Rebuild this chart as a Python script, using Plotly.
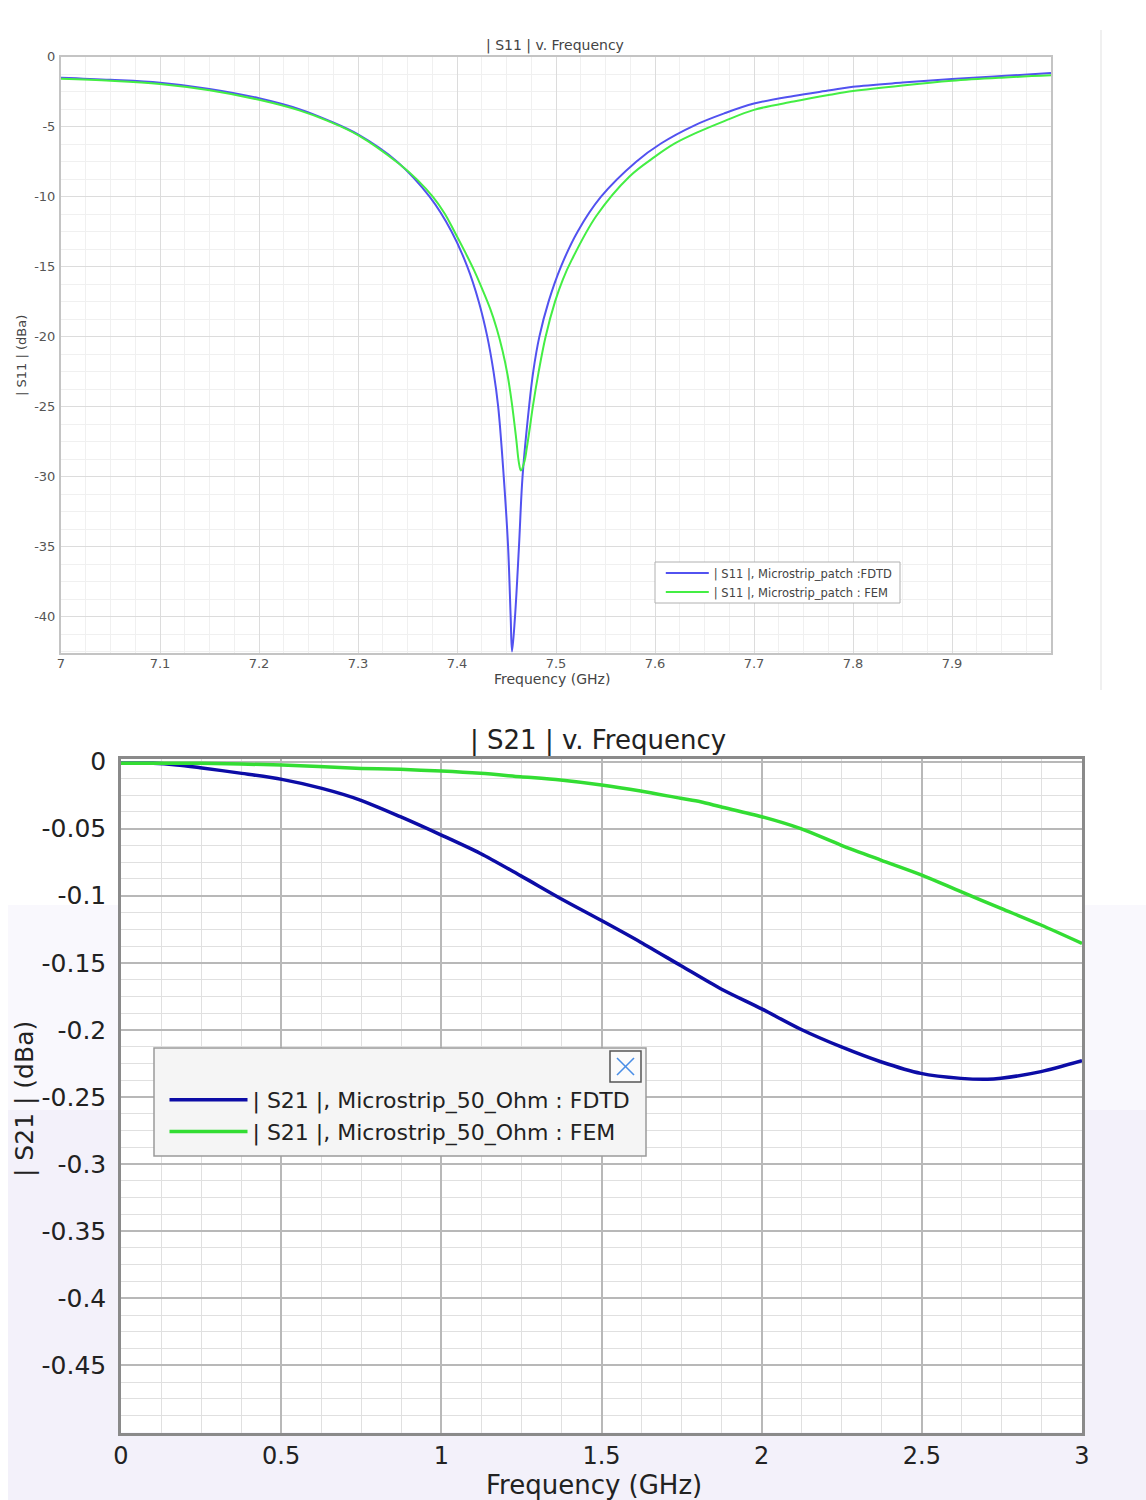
import plotly.graph_objects as go

W, H = 1146, 1500

# ---------------- data: |S11| (top chart) ----------------
s11_fdtd_freq = [7.00, 7.05, 7.10, 7.15, 7.20, 7.2414, 7.27, 7.30, 7.3396, 7.3723, 7.3946,
                 7.4104, 7.4220, 7.4306, 7.4369, 7.4416, 7.4472, 7.4516, 7.4542, 7.4556,
                 7.4586, 7.4626, 7.4662, 7.4728, 7.4770, 7.4832, 7.4925, 7.5050, 7.5218,
                 7.5455, 7.5810, 7.606, 7.640, 7.67, 7.70, 7.74, 7.7768, 7.80, 7.85, 7.90,
                 7.95, 8.00]
s11_fdtd_db = [-1.50, -1.65, -1.86, -2.30, -2.97, -3.76, -4.55, -5.55, -7.5, -10.0, -12.5,
               -15.0, -17.5, -20.0, -22.5, -25.0, -30.0, -35.0, -40.0, -42.5,
               -40.0, -35.0, -30.0, -25.0, -22.5, -20.0, -17.5, -15.0, -12.5,
               -10.0, -7.5, -6.2, -4.9, -4.05, -3.35, -2.80, -2.40, -2.15, -1.85, -1.60,
               -1.38, -1.17]

s11_fem_freq = [7.00, 7.05, 7.10, 7.15, 7.20, 7.2414, 7.27, 7.30, 7.3424, 7.36, 7.3755, 7.3875,
                7.3975, 7.4085, 7.4175, 7.4255, 7.4335, 7.4400, 7.4460, 7.4510, 7.4553, 7.4598,
                7.4625, 7.4645, 7.4682, 7.4704, 7.4736, 7.4766, 7.4825, 7.4895, 7.4990, 7.507,
                7.516, 7.5405, 7.5740, 7.60, 7.62, 7.6421, 7.67, 7.70, 7.74, 7.7768, 7.80,
                7.85, 7.90, 7.95, 8.00]
s11_fem_db = [-1.58, -1.72, -1.95, -2.40, -3.08, -3.85, -4.60, -5.60, -7.70, -8.80, -10.0, -11.2,
              -12.5, -14.0, -15.3, -16.6, -18.0, -19.4, -21.0, -22.7, -24.7, -27.3,
              -29.0, -29.57, -28.9, -28.0, -26.5, -25.0, -22.5, -20.0, -17.5, -15.9,
              -14.5, -11.4, -8.57, -7.14, -6.20, -5.43, -4.60, -3.80, -3.20, -2.72, -2.45,
              -2.05, -1.72, -1.50, -1.33]

s11_xticks = [7.0, 7.1, 7.2, 7.3, 7.4, 7.5, 7.6, 7.7, 7.8, 7.9]
s11_xlabels = ["7", "7.1", "7.2", "7.3", "7.4", "7.5", "7.6", "7.7", "7.8", "7.9"]
s11_yticks = [0, -5, -10, -15, -20, -25, -30, -35, -40]
s11_ylabels = ["0", "-5", "-10", "-15", "-20", "-25", "-30", "-35", "-40"]

# ---------------- data: |S21| (bottom chart) ----------------
s21_fdtd_freq = [0.0, 0.10, 0.174, 0.247, 0.377, 0.502, 0.627, 0.747, 0.872, 1.0, 1.122,
                 1.247, 1.372, 1.5, 1.622, 1.747, 1.872, 2.0, 2.122, 2.247, 2.372, 2.497,
                 2.622, 2.705, 2.747, 2.872, 3.0]
s21_fdtd_db = [-0.0013, -0.0013, -0.0025, -0.0046, -0.0088, -0.0133, -0.0200, -0.0287,
               -0.0411, -0.0548, -0.0685, -0.0850, -0.1020, -0.1185, -0.1346, -0.1520,
               -0.1693, -0.1843, -0.1995, -0.2125, -0.2237, -0.2324, -0.2361, -0.2368,
               -0.2360, -0.2311, -0.2230]

s21_fem_freq = [0.0, 0.247, 0.502, 0.75, 0.872, 1.0, 1.122, 1.247, 1.372, 1.5, 1.622,
                1.747, 1.809, 1.872, 2.0, 2.122, 2.247, 2.372, 2.5, 2.622, 2.747, 2.872, 3.0]
s21_fem_db = [-0.0013, -0.0013, -0.0026, -0.0051, -0.0058, -0.0071, -0.0088, -0.0113,
              -0.0138, -0.0175, -0.0220, -0.0274, -0.0300, -0.0337, -0.0411, -0.0500,
              -0.0622, -0.0734, -0.0846, -0.0970, -0.1094, -0.1218, -0.1355]

s21_xticks = [0, 0.5, 1, 1.5, 2, 2.5, 3]
s21_xlabels = ["0", "0.5", "1", "1.5", "2", "2.5", "3"]
s21_yticks = [0, -0.05, -0.1, -0.15, -0.2, -0.25, -0.3, -0.35, -0.4, -0.45]
s21_ylabels = ["0", "-0.05", "-0.1", "-0.15", "-0.2", "-0.25", "-0.3", "-0.35", "-0.4", "-0.45"]

s11_names = ["| S11 |, Microstrip_patch :FDTD", "| S11 |, Microstrip_patch : FEM"]
s21_names = ["| S21 |, Microstrip_50_Ohm : FDTD", "| S21 |, Microstrip_50_Ohm : FEM"]


def px(x):
    return x / W


def py(y):
    return 1 - y / H


FONT = "DejaVu Sans, Verdana, sans-serif"

fig = go.Figure()

fig.add_trace(go.Scatter(x=s11_fdtd_freq, y=s11_fdtd_db, mode="lines", name=s11_names[0],
                         line=dict(color="#5252f0", width=2, shape="spline", smoothing=1.0),
                         xaxis="x", yaxis="y", legend="legend"))
fig.add_trace(go.Scatter(x=s11_fem_freq, y=s11_fem_db, mode="lines", name=s11_names[1],
                         line=dict(color="#44ee44", width=2, shape="spline", smoothing=1.0),
                         xaxis="x", yaxis="y", legend="legend"))
fig.add_trace(go.Scatter(x=s21_fdtd_freq, y=s21_fdtd_db, mode="lines", name=s21_names[0],
                         line=dict(color="#0c0ca6", width=3.5, shape="spline", smoothing=0.8),
                         xaxis="x2", yaxis="y2", legend="legend2"))
fig.add_trace(go.Scatter(x=s21_fem_freq, y=s21_fem_db, mode="lines", name=s21_names[1],
                         line=dict(color="#33dd33", width=3.5, shape="spline", smoothing=0.8),
                         xaxis="x2", yaxis="y2", legend="legend2"))

top_grid = dict(showgrid=True, gridcolor="#dcdcdc", gridwidth=1, zeroline=False, automargin=False,
                showline=True, linecolor="#c4c4c4", linewidth=2, mirror=True, ticks="")
bot_grid = dict(showgrid=True, gridcolor="#b8b8b8", gridwidth=1.5, zeroline=False, automargin=False,
                showline=True, linecolor="#8a8a8a", linewidth=2.5, mirror=True, ticks="")

fig.update_layout(
    width=W, height=H,
    margin=dict(l=0, r=0, t=0, b=0, pad=0, autoexpand=False),
    paper_bgcolor="white", plot_bgcolor="white",
    font=dict(family=FONT, color="#333"),
    xaxis=dict(domain=[px(61), px(1051)], range=[7.0, 8.0], anchor="y",
               tickmode="array", tickvals=s11_xticks, ticktext=s11_xlabels,
               tickfont=dict(size=13, color="#555"), ticklabelstandoff=-3,
               minor=dict(dtick=0.025, showgrid=True, gridcolor="#f0f0f0", gridwidth=1),
               **top_grid),
    yaxis=dict(domain=[py(653), py(56.7)], range=[-42.6, 0.0], anchor="x",
               tickmode="array", tickvals=s11_yticks, ticktext=s11_ylabels,
               tickfont=dict(size=13, color="#555"), ticklabelstandoff=1,
               minor=dict(dtick=1.25, showgrid=True, gridcolor="#f0f0f0", gridwidth=1),
               **top_grid),
    xaxis2=dict(domain=[px(121), px(1082)], range=[0, 3.0], anchor="y2",
                tickmode="array", tickvals=s21_xticks, ticktext=s21_xlabels,
                tickfont=dict(size=24, color="#222"), ticklabelstandoff=0,
                minor=dict(dtick=0.125, showgrid=True, gridcolor="#e0e0e0", gridwidth=1),
                **bot_grid),
    yaxis2=dict(domain=[py(1432.5), py(759)], range=[-0.5, 0.0019], anchor="x2",
                tickmode="array", tickvals=s21_yticks, ticktext=s21_ylabels,
                tickfont=dict(size=25, color="#222"), ticklabelstandoff=7,
                minor=dict(dtick=0.0125, showgrid=True, gridcolor="#e0e0e0", gridwidth=1),
                **bot_grid),
    legend=dict(x=px(660.8), y=py(558.5), xanchor="left", yanchor="top",
                bgcolor="rgba(0,0,0,0)", borderwidth=0,
                font=dict(size=11.5, color="#444", family=FONT),
                itemwidth=43, tracegroupgap=0, traceorder="normal"),
    legend2=dict(x=px(164.5), y=py(1079), xanchor="left", yanchor="top",
                 bgcolor="rgba(0,0,0,0)", borderwidth=0,
                 font=dict(size=22, color="#222", family=FONT),
                 itemwidth=78, tracegroupgap=0, traceorder="normal"),
    showlegend=True,
)

shapes = [
    dict(type="rect", xref="paper", yref="paper", x0=px(8), x1=1, y0=py(1110), y1=py(905),
         fillcolor="#f9f8fd", line=dict(width=0), layer="below"),
    dict(type="rect", xref="paper", yref="paper", x0=px(8), x1=1, y0=0, y1=py(1110),
         fillcolor="#f3f1fa", line=dict(width=0), layer="below"),
    dict(type="rect", xref="paper", yref="paper", x0=px(121), x1=px(1082), y0=py(1432.5), y1=py(759),
         fillcolor="white", line=dict(width=0), layer="below"),
    dict(type="line", xref="paper", yref="paper", x0=px(1101), x1=px(1101), y0=py(690), y1=py(30),
         line=dict(color="#f0f0f0", width=2), layer="below"),
    dict(type="rect", xref="paper", yref="paper", x0=px(655), x1=px(900), y0=py(603), y1=py(562),
         fillcolor="white", line=dict(color="#b0b0b0", width=1), layer="above"),
    dict(type="rect", xref="paper", yref="paper", x0=px(154), x1=px(646), y0=py(1156), y1=py(1048),
         fillcolor="#f5f5f5", line=dict(color="#9a9a9a", width=1.5), layer="above"),
    dict(type="rect", xref="paper", yref="paper", x0=px(610), x1=px(641), y0=py(1082), y1=py(1051),
         fillcolor="#fbfbfb", line=dict(color="#555", width=1.5), layer="above"),
    dict(type="line", xref="paper", yref="paper", x0=px(617), x1=px(634), y0=py(1058), y1=py(1075),
         line=dict(color="#4a8ee6", width=1.6), layer="above"),
    dict(type="line", xref="paper", yref="paper", x0=px(634), x1=px(617), y0=py(1058), y1=py(1075),
         line=dict(color="#4a8ee6", width=1.6), layer="above"),
]
fig.update_layout(shapes=shapes)

annotations = [
    dict(text="| S11 | v. Frequency", x=px(555), y=py(46), font=dict(size=14, color="#444")),
    dict(text="| S11 | (dBa)", x=px(21), y=py(356), textangle=-90, font=dict(size=13, color="#444")),
    dict(text="Frequency (GHz)", x=px(552), y=py(679), font=dict(size=14, color="#444")),
    dict(text="| S21 | v. Frequency", x=px(598), y=py(740), font=dict(size=26, color="#222")),
    dict(text="| S21 | (dBa)", x=px(24), y=py(1099), textangle=-90, font=dict(size=25, color="#222")),
    dict(text="Frequency (GHz)", x=px(594), y=py(1485), font=dict(size=26, color="#222")),
]
for a in annotations:
    a.update(xref="paper", yref="paper", showarrow=False, xanchor="center", yanchor="middle")
    a["font"]["family"] = FONT
fig.update_layout(annotations=annotations)

fig.write_html("out.html")
